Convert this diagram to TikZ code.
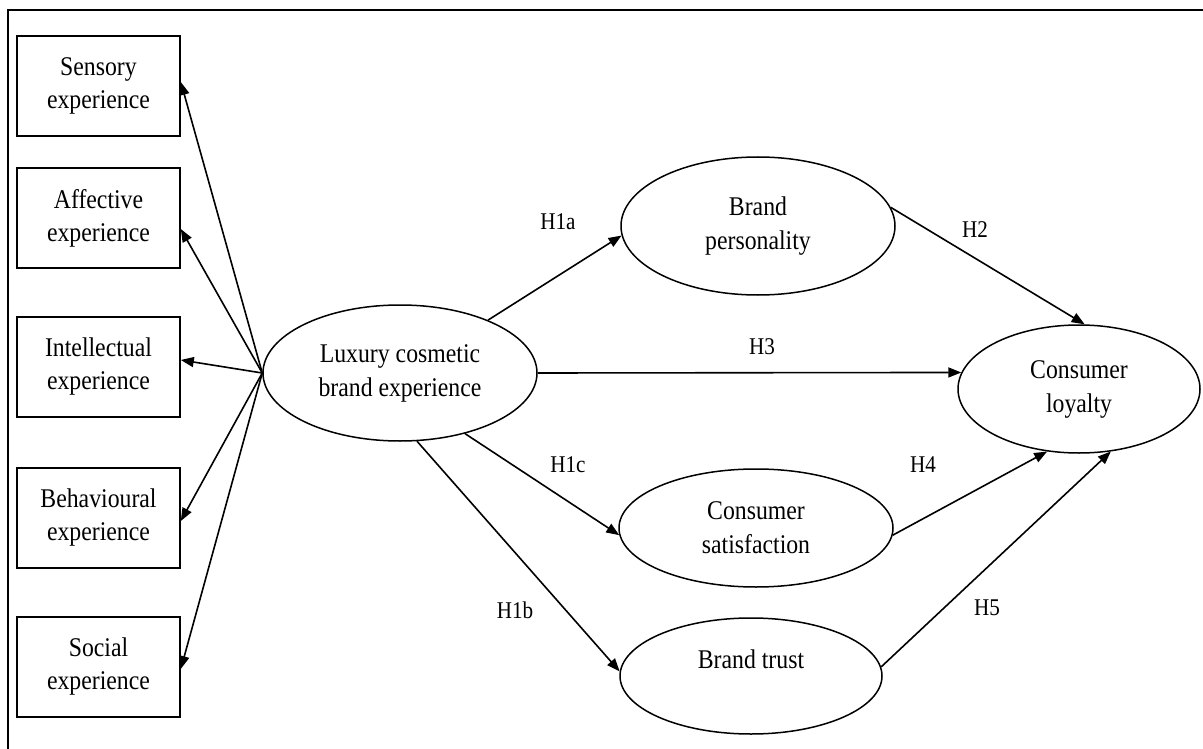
\documentclass[tikz,border=0pt]{standalone}
\usepackage{fontspec}
\setmainfont{Liberation Serif}[FakeStretch=0.88]
\usetikzlibrary{shapes.geometric,arrows.meta}
\tikzset{
  boxnode/.style={draw, line width=1.6pt, minimum width=163pt, minimum height=100pt, inner sep=0pt, align=center, font=\fontsize{27}{33}\selectfont},
  ellnode/.style={draw, ellipse, line width=1.5pt, inner sep=0pt, align=center, font=\fontsize{27}{34}\selectfont},
  lbl/.style={font=\fontsize{24}{26}\selectfont, inner sep=0pt},
  arr/.style={line width=1.6pt, -{Triangle[length=13pt,width=10pt]}}
}
\begin{document}
\begin{tikzpicture}[x=1pt,y=-1pt]
\clip (0,0) rectangle (1203,749);
\fill[white] (0,0) rectangle (1203,749);
\draw[line width=2.5pt] (8,770) -- (8,10) -- (1220,10);
% boxes
\node[boxnode] (sens) at (98.5,86) {Sensory\\experience};
\node[boxnode] (aff) at (98.5,218) {Affective\\experience};
\node[boxnode] (int) at (98.5,367) {Intellectual\\experience};
\node[boxnode] (beh) at (98.5,518) {Behavioural\\experience};
\node[boxnode] (soc) at (98.5,667) {Social\\experience};
% ellipses
\node[ellnode, minimum width=274pt, minimum height=136pt] (lux) at (400,373) {Luxury cosmetic\\brand experience};
\node[ellnode, minimum width=274pt, minimum height=138pt] (bp) at (758,226) {Brand\\personality};
\node[ellnode, minimum width=274pt, minimum height=118pt] (cs) at (756,528) {Consumer\\satisfaction};
\node[ellnode, minimum width=262pt, minimum height=116pt] (bt) at (751,676) {Brand trust\\\mbox{}};
\node[ellnode, minimum width=242pt, minimum height=128pt] (cl) at (1079,389) {Consumer\\loyalty};
% hub arrows
\draw[arr] (lux.west) -- ([yshift=4pt]sens.east);
\draw[arr] (lux.west) -- ([yshift=-11pt]aff.east);
\draw[arr] (lux.west) -- ([yshift=7pt]int.east);
\draw[arr] (lux.west) -- ([yshift=-3pt]beh.east);
\draw[arr] (lux.west) -- ([yshift=-2pt]soc.east);
% path arrows
\draw[arr] (lux.31) -- (bp.184);
\draw[arr] (lux.317) -- (cs.183);
\draw[arr] (lux.284) -- (bt.178);
\draw[arr] (bp.8) -- (cl.85);
\draw[arr] (lux.east) -- (cl.172.5);
\draw[arr] (cs.357) -- (cl.243);
\draw[arr] (bt.4) -- (cl.297);
% labels
\node[lbl] (h1a) at (558,222) {H1a};
\node[lbl] (h3) at (762,347) {H3};
\node[lbl] (h1c) at (568,465) {H1c};
\node[lbl] (h1b) at (515,610) {H1b};
\node[lbl] (h2) at (975,230) {H2};
\node[lbl] (h4) at (923,465) {H4};
\node[lbl] (h5) at (987,608) {H5};
\end{tikzpicture}
\end{document}
